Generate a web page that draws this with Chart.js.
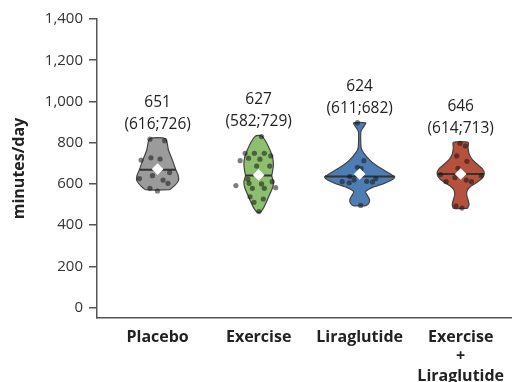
<!DOCTYPE html>
<html>
<head>
<meta charset="utf-8">
<script src="https://cdn.jsdelivr.net/npm/chart.js@4.4.1/dist/chart.umd.min.js"></script>
<style>
  html, body { margin: 0; padding: 0; background: #fff; }
  #wrap { width: 517px; height: 382px; }
</style>
</head>
<body>
<div id="wrap"><canvas id="violinChart"></canvas></div>
<script>
// groups on the x axis (placed at 0, 1, 2, 3)
const groups = ['Placebo', 'Exercise', 'Liraglutide', ['Exercise', '+', 'Liraglutide']];
const yTicks = [0, 200, 400, 600, 800, 1000, 1200, 1400];

// median (q1;q3) printed above each violin
const medians = [651, 627, 624, 646];
const q1 = [616, 582, 611, 614];
const q3 = [726, 729, 682, 713];

// where the median bar and the mean diamond are drawn
const medianBar = [669, 641, 636, 648];
const means = [672, 644, 648, 648];

// violin outlines: levels (bottom -> top) and half widths in group units
const placeboLevels = [572, 591, 615, 640, 669, 717, 765, 819];
const placeboWidths = [0.117, 0.166, 0.205, 0.205, 0.18, 0.146, 0.107, 0.078];
const exerciseLevels = [460, 465, 484, 514, 547, 581, 610, 640, 659, 693, 732, 765, 800, 833];
const exerciseWidths = [0, 0.02, 0.049, 0.078, 0.107, 0.137, 0.146, 0.13, 0.137, 0.146, 0.137, 0.112, 0.078, 0.03];
const liraLevels = [494, 504, 523, 543, 562, 581, 603, 620, 635, 649, 669, 693, 717, 751, 775, 838, 858, 877, 896];
const liraWidths = [0.06, 0.088, 0.098, 0.078, 0.059, 0.117, 0.244, 0.32, 0.347, 0.30, 0.234, 0.156, 0.098, 0.039, 0.015, 0.01, 0.015, 0.039, 0.059];
const comboLevels = [482, 499, 523, 547, 572, 591, 610, 630, 652, 673, 693, 717, 746, 775, 802];
const comboWidths = [0.068, 0.083, 0.073, 0.059, 0.068, 0.107, 0.166, 0.215, 0.234, 0.215, 0.17, 0.117, 0.083, 0.073, 0.073];

// individual participants: jitter offset and value
const placeboJitter = [-0.076, 0.07, -0.164, -0.066, 0.024, -0.18, -0.051, 0.054, 0.119, 0.103, -0.076, -0.002];
const placeboValues = [817, 810, 716, 727, 721, 626, 640, 619, 655, 603, 579, 566];
const exerciseJitter = [0.029, -0.134, -0.042, 0.056, 0.12, -0.183, -0.10, 0.013, -0.02, 0.11, -0.107, -0.225, -0.095, 0.029, 0.134, 0.169, -0.062, 0.056, -0.085, 0.046, -0.046, 0.003];
const exerciseValues = [830, 749, 749, 749, 736, 713, 725, 720, 687, 687, 623, 592, 603, 600, 611, 582, 579, 579, 538, 527, 511, 466];
const liraJitter = [-0.022, 0.042, -0.022, 0.015, -0.098, -0.173, -0.104, -0.056, 0.07, 0.127, 0.16, 0.01];
const liraValues = [897, 713, 681, 674, 636, 611, 606, 619, 613, 610, 626, 496];
const comboJitter = [-0.007, 0.046, -0.039, 0.062, -0.027, -0.198, -0.057, -0.145, 0.056, 0.107, 0.203, -0.047, 0.013];
const comboValues = [797, 784, 736, 710, 676, 646, 631, 611, 619, 611, 640, 493, 483];

const levels = [placeboLevels, exerciseLevels, liraLevels, comboLevels];
const widths = [placeboWidths, exerciseWidths, liraWidths, comboWidths];
const jitters = [placeboJitter, exerciseJitter, liraJitter, comboJitter];
const values = [placeboValues, exerciseValues, liraValues, comboValues];
const fills = ['#9b9b9b', '#8dbf6e', '#4e7cb4', '#b6513e'];

// closed outline: right side going up, left side coming down
function outline(i) {
    const right = levels[i].map((v, k) => ({ x: i + widths[i][k], y: v }));
    const left = levels[i].map((v, k) => ({ x: i - widths[i][k], y: v })).reverse();
    return right.concat(left, [right[0]]);
}

function halfWidthAt(i, v) {
    const lv = levels[i], hw = widths[i];
    for (let k = 1; k < lv.length; k++) {
        if (v <= lv[k]) {
            const t = (v - lv[k - 1]) / (lv[k] - lv[k - 1]);
            return hw[k - 1] + t * (hw[k] - hw[k - 1]);
        }
    }
    return hw[hw.length - 1];
}

const datasets = [];
groups.forEach((g, i) => {
    datasets.push({
        type: 'line',
        data: outline(i),
        borderColor: '#444',
        borderWidth: 1.2,
        backgroundColor: fills[i],
        fill: 'shape',
        tension: 0.25,
        pointRadius: 0,
        order: 4
    });
    const hw = halfWidthAt(i, medianBar[i]);
    datasets.push({
        type: 'line',
        data: [{ x: i - hw, y: medianBar[i] }, { x: i + hw, y: medianBar[i] }],
        borderColor: '#333',
        borderWidth: 2,
        pointRadius: 0,
        fill: false,
        order: 3
    });
    datasets.push({
        type: 'scatter',
        data: values[i].map((v, k) => ({ x: i + jitters[i][k], y: v })),
        backgroundColor: 'rgba(20,20,20,0.55)',
        borderWidth: 0,
        pointRadius: 2.6,
        order: 2
    });
});
datasets.push({
    type: 'scatter',
    data: means.map((v, i) => ({ x: i, y: v })),
    pointStyle: 'rectRot',
    pointRadius: 5.8,
    backgroundColor: '#fff',
    borderColor: '#fff',
    borderWidth: 0,
    order: 1
});

// "median (q1;q3)" text above each violin
const iqrLabels = {
    id: 'iqrLabels',
    afterDatasetsDraw(chart) {
        const { ctx, scales: { x, y } } = chart;
        ctx.save();
        ctx.font = '15.5px "Open Sans"';
        ctx.fillStyle = '#222';
        ctx.textAlign = 'center';
        ctx.textBaseline = 'middle';
        groups.forEach((g, i) => {
            const top = y.getPixelForValue(Math.max(...levels[i]));
            const cx = x.getPixelForValue(i);
            ctx.fillText(String(medians[i]), cx, top - 36);
            ctx.fillText('(' + q1[i] + ';' + q3[i] + ')', cx, top - 14);
        });
        ctx.restore();
    }
};

const ctx = document.getElementById('violinChart').getContext('2d');
const violinChart = new Chart(ctx, {
    type: 'scatter',
    data: { datasets: datasets },
    plugins: [iqrLabels],
    options: {
        responsive: true,
        maintainAspectRatio: false,
        animation: false,
        events: [],
        layout: { padding: { top: 19, right: 0, left: 0, bottom: 0 } },
        plugins: {
            legend: { display: false },
            tooltip: { enabled: false }
        },
        scales: {
            x: {
                type: 'linear',
                min: -0.6,
                max: 3.5,
                afterBuildTicks: s => { s.ticks = groups.map((g, i) => ({ value: i })); },
                afterFit: s => { s.height = 64; },
                grid: { display: true, drawOnChartArea: false, drawTicks: false },
                border: { display: true, color: '#555', width: 1.5 },
                ticks: {
                    autoSkip: false,
                    maxRotation: 0,
                    padding: 10,
                    color: '#222',
                    font: { family: 'Open Sans', size: 16, weight: 'bold', lineHeight: 1.2 },
                    callback: v => groups[v]
                }
            },
            y: {
                type: 'linear',
                min: -50,
                max: 1400,
                afterBuildTicks: s => { s.ticks = yTicks.map(v => ({ value: v })); },
                afterFit: s => { s.width = 97; },
                grid: { drawOnChartArea: false, drawTicks: true, tickLength: 8, color: '#555', lineWidth: 1.5 },
                border: { display: true, color: '#555', width: 1.5 },
                ticks: {
                    padding: 6,
                    color: '#333',
                    font: { family: 'Open Sans', size: 15 },
                    callback: v => v.toLocaleString('en-US')
                },
                title: {
                    display: true,
                    text: 'minutes/day',
                    color: '#222',
                    font: { family: 'Open Sans', size: 16, weight: 'bold' },
                    padding: { top: 10, bottom: 0 }
                }
            }
        }
    }
});
</script>
</body>
</html>
